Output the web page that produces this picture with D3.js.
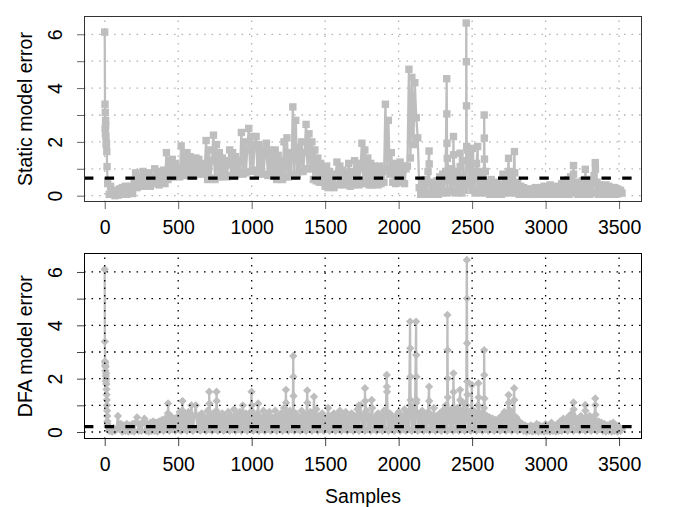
<!DOCTYPE html>
<html><head><meta charset="utf-8">
<script src="https://cdn.jsdelivr.net/npm/d3@7"></script>
<style>
html,body{margin:0;padding:0;background:#fff;}
svg{display:block;font-family:"Liberation Sans",Arial,Helvetica,sans-serif;}
</style>
</head><body>
<svg id="chart" width="676" height="507"></svg>
<script>
// ---------- data ----------
const xTicks = [0, 500, 1000, 1500, 2000, 2500, 3000, 3500];
const yTicks = [0, 1, 2, 3, 4, 5, 6];
const yTickLabels = [0, 2, 4, 6];
const sampleStep = 10;           // main series read every 10 samples
const xLabel = "Samples";
const staticLabel = "Static model error";
const dfaLabel = "DFA model error";
const staticThreshold = 0.65;
const dfaThreshold = 0.2;

// static model error, samples 0,10,20,...,3520
const staticErrors = [
  6.08,1.9,0.45,0.05,0.35,0.1,0.2,0.0,0.15,0.02,
  0.25,0.05,0.3,0.1,0.35,0.05,0.3,0.1,0.35,0.08,
  0.45,0.85,0.3,0.7,0.35,0.6,0.9,0.35,0.75,0.4,
  0.85,0.35,0.7,0.45,1.0,0.45,0.9,0.4,0.8,0.5,
  0.95,0.45,1.6,0.6,1.3,0.7,1.35,0.7,1.2,0.75,
  1.0,0.7,1.85,0.8,1.6,0.75,1.6,0.75,1.45,0.8,
  1.3,0.75,1.4,0.8,1.35,0.85,1.2,0.8,1.0,2.05,
  0.6,1.7,0.65,1.3,2.25,0.6,1.9,0.7,1.6,0.7,
  1.4,0.75,1.3,0.7,1.15,1.7,0.75,1.6,0.8,1.45,
  0.8,1.3,0.85,2.35,0.8,2.0,0.85,1.7,2.5,0.9,
  2.2,0.95,1.9,2.2,0.8,1.9,0.85,1.7,0.8,1.5,
  1.95,0.75,1.7,0.8,1.5,0.75,1.7,0.6,1.5,0.65,
  1.3,0.6,2.0,0.7,2.15,0.7,1.6,0.75,3.3,0.8,
  2.8,0.8,1.8,0.9,2.0,0.9,1.6,2.65,1.0,2.3,
  1.0,2.0,0.6,1.7,0.55,1.4,0.5,1.2,0.5,1.0,
  0.35,1.1,0.3,0.9,0.35,0.8,0.3,0.7,1.25,0.4,
  1.1,0.45,0.95,0.4,0.85,0.45,1.2,0.35,0.9,0.4,
  1.3,0.45,1.2,0.4,1.0,1.95,0.45,1.7,0.5,1.4,
  0.4,1.2,0.4,1.1,0.45,1.0,0.4,1.1,0.45,0.9,
  0.5,3.4,1.0,2.8,0.8,1.6,0.5,1.2,0.45,1.1,
  0.5,1.25,0.5,1.1,0.45,1.0,1.1,4.7,1.4,4.4,
  1.9,4.2,2.9,2.15,0.3,0.05,0.45,0.1,0.6,0.05,
  0.9,0.1,0.5,0.05,0.4,0.1,0.55,0.05,0.7,0.1,
  0.8,0.15,0.9,0.1,0.95,0.2,1.0,0.15,0.8,0.1,
  0.9,0.2,0.7,0.1,1.3,0.2,0.6,1.7,0.4,1.5,
  0.2,0.9,0.1,1.2,0.2,0.8,0.1,0.9,0.2,0.9,
  0.1,0.5,0.05,0.6,0.1,0.45,0.05,0.5,0.1,0.4,
  0.05,0.8,0.1,0.6,0.15,0.9,0.1,0.7,0.2,0.85,
  0.1,0.5,0.05,0.35,0.1,0.3,0.05,0.25,0.05,0.2,
  0.05,0.25,0.05,0.3,0.08,0.25,0.05,0.3,0.1,0.35,
  0.05,0.3,0.1,0.4,0.05,0.3,0.1,0.35,0.05,0.3,
  0.1,0.45,0.05,0.5,0.1,0.6,0.05,0.7,0.15,0.8,
  0.1,0.5,0.05,0.45,0.1,0.55,0.05,0.6,0.1,0.45,
  0.05,0.6,0.1,0.75,0.1,0.5,0.05,0.4,0.1,0.35,
  0.05,0.4,0.1,0.35,0.05,0.3,0.1,0.3,0.05,0.25,
  0.08,0.2,0.1
];
// extra static points (spikes between the regular samples)
const staticSpikeSamples = [2,3,4,5,6,7,8,12,14,16,2207,2208,2327,2328,2329,2331,2373,2374,2418,2419,2460,2461,2462,2463,2502,2538,2582,2583,2584,2748,2788,3190,3270,3338,3339];
const staticSpikeErrors  = [3.4,2.5,3.1,2.3,2.8,2.6,2.2,1.95,1.64,1.08,1.66,1.18,4.35,3.04,1.95,1.39,2.2,1.52,1.58,1.08,6.42,4.98,3.34,1.83,1.76,1.83,3.0,2.14,1.36,1.39,1.64,1.12,0.98,1.23,0.98];

// DFA model error, samples 0,10,20,...,3520
const dfaErrors = [
  6.1,2.0,0.2,0.05,0.1,0.02,0.15,0.05,0.1,0.6,
  0.1,0.3,0.02,0.25,0.05,0.3,0.02,0.25,0.05,0.3,
  0.02,0.35,0.55,0.05,0.3,0.05,0.35,0.5,0.05,0.3,
  0.02,0.35,0.05,0.4,0.05,0.35,0.02,0.4,0.1,0.45,
  0.05,0.5,0.1,0.7,0.05,0.6,0.1,0.5,0.05,0.55,
  0.1,0.75,0.05,0.8,0.1,0.6,0.05,0.75,0.1,1.0,
  0.05,0.6,1.0,0.1,0.6,0.05,0.7,0.1,0.55,0.05,
  0.8,0.1,0.65,0.05,0.7,0.1,0.8,0.05,0.6,0.1,
  0.7,0.05,0.55,0.1,0.75,0.05,0.6,0.1,0.85,0.05,
  0.65,0.1,0.75,0.05,1.0,0.1,0.7,0.05,0.65,0.1,
  0.8,0.05,0.6,0.1,0.7,0.05,0.55,0.1,0.8,0.05,
  0.6,0.1,0.75,0.05,0.55,0.1,0.8,0.05,0.6,0.1,
  0.7,0.05,0.9,0.1,0.65,0.05,0.8,0.1,0.6,0.05,
  0.7,0.1,0.55,0.05,0.8,0.1,0.65,0.05,0.6,0.1,
  0.75,0.05,0.6,0.1,0.85,0.05,0.6,0.1,0.7,0.05,
  0.55,0.1,0.9,0.05,0.6,0.1,0.7,0.05,0.65,0.1,
  0.8,0.05,0.6,0.1,0.75,0.05,0.55,0.1,0.7,0.05,
  0.6,0.1,0.85,0.05,1.0,0.1,0.65,0.05,0.8,0.1,
  0.6,0.05,0.9,0.1,0.55,0.05,0.7,0.1,0.6,0.05,
  0.8,0.1,0.65,0.05,0.7,0.1,0.55,0.05,0.6,0.1,
  0.75,0.05,0.6,0.1,0.85,0.05,0.7,0.1,1.0,0.05,
  0.9,0.1,1.1,0.05,0.7,0.1,0.8,0.05,0.6,0.1,
  0.75,0.05,0.65,0.1,0.9,0.05,0.6,0.1,0.7,0.05,
  0.8,0.1,1.0,0.05,0.7,0.1,0.85,0.05,0.75,0.1,
  0.9,0.05,0.8,0.1,1.1,0.05,1.0,0.1,0.7,0.05,
  0.85,0.1,0.75,0.05,1.0,0.1,0.7,0.05,0.9,0.1,
  0.6,0.05,0.55,0.1,0.5,0.05,0.45,0.1,0.5,0.05,
  0.6,0.1,0.75,0.05,0.65,0.1,0.8,0.05,0.6,0.1,
  0.55,0.05,0.4,0.1,0.3,0.05,0.25,0.02,0.2,0.05,
  0.25,0.02,0.2,0.05,0.3,0.02,0.25,0.05,0.2,0.02,
  0.3,0.05,0.25,0.02,0.35,0.05,0.2,0.02,0.3,0.05,
  0.4,0.05,0.5,0.1,0.45,0.05,0.6,0.1,0.7,0.05,
  0.55,0.1,0.45,0.05,0.6,0.1,0.5,0.05,0.55,0.1,
  0.6,0.05,0.5,0.1,0.65,0.05,0.4,0.1,0.35,0.05,
  0.3,0.02,0.25,0.05,0.3,0.02,0.35,0.05,0.25,0.02,
  0.2,0.05,0.1
];
const dfaSpikeSamples = [1,2,3,4,5,6,7,8,9,11,12,13,14,15,16,17,18,19,431,529,711,712,761,762,999,1001,1044,1233,1234,1283,1284,1285,1378,1379,1424,1730,1771,1772,1817,1919,1920,1921,2078,2079,2080,2081,2119,2120,2121,2122,2207,2208,2332,2333,2334,2335,2373,2374,2418,2419,2464,2465,2466,2467,2468,2498,2543,2544,2582,2583,2584,2748,2749,2786,2787,3190,3191,3270,3271,3338,3339];
const dfaSpikeErrors  = [3.39,2.65,2.5,2.6,2.3,2.45,2.1,1.9,2.2,1.8,1.6,1.4,1.2,1.0,0.8,0.6,0.4,0.3,1.07,1.16,1.51,1.07,1.51,1.16,1.51,1.0,1.07,1.58,1.1,2.85,2.07,1.35,1.56,1.1,1.32,1.0,1.64,1.16,1.2,2.14,1.7,1.51,4.14,3.14,2.07,1.2,4.14,2.89,2.07,1.2,1.7,1.16,4.39,3.07,2.01,1.3,2.2,1.5,1.58,1.2,6.45,5.01,3.33,1.89,1.4,1.76,1.83,1.3,3.07,2.14,1.26,1.39,1.1,1.64,1.2,1.11,0.85,1.01,0.8,1.26,1.01];

// ---------- helpers ----------
function buildSeries(main, spikeS, spikeV) {
  const pts = main.map((v, i) => ({ s: i * sampleStep, v: v }));
  const n = Math.min(spikeS.length, spikeV.length);
  for (let i = 0; i < n; i++) pts.push({ s: spikeS[i], v: spikeV[i] });
  return pts.sort((a, b) => a.s - b.s);
}

const svg = d3.select("#chart");
const FONT = 19.5;
const left = 84, right = 642;
const x = d3.scaleLinear().domain([-141, 3656]).range([left, right]);

const panels = [
  { data: buildSeries(staticErrors, staticSpikeSamples, staticSpikeErrors),
    top: 16, bottom: 202, domain: [-0.235, 6.68], label: staticLabel,
    thr: staticThreshold, marker: "square", gridColor: "#b4b4b4", gridOnTop: false,
    boxColor: "#333", tickColor: "#666", id: "p1" },
  { data: buildSeries(dfaErrors, dfaSpikeSamples, dfaSpikeErrors),
    top: 253.3, bottom: 439, domain: [-0.262, 6.70], label: dfaLabel,
    thr: dfaThreshold, marker: "diamond", gridColor: "#000", gridOnTop: true,
    boxColor: "#000", tickColor: "#444", id: "p2" }
];

const defs = svg.append("defs");

panels.forEach(p => {
  const y = d3.scaleLinear().domain(p.domain).range([p.bottom, p.top]);
  const g = svg.append("g");
  defs.append("clipPath").attr("id", "clip-" + p.id)
    .append("rect").attr("x", left).attr("y", p.top)
    .attr("width", right - left).attr("height", p.bottom - p.top);

  const drawGrid = () => {
    const gg = g.append("g").attr("fill", "none").attr("stroke", p.gridColor)
      .attr("stroke-width", 1.3).attr("stroke-dasharray", "1.6 5.9");
    gg.selectAll("line.h").data(yTicks).join("line").attr("class", "h")
      .attr("x1", left).attr("x2", right)
      .attr("y1", d => y(d)).attr("y2", d => y(d));
    gg.selectAll("line.v").data(xTicks).join("line").attr("class", "v")
      .attr("x1", d => x(d)).attr("x2", d => x(d))
      .attr("y1", p.bottom).attr("y2", p.top);
  };

  if (!p.gridOnTop) drawGrid();

  const plot = g.append("g").attr("clip-path", `url(#clip-${p.id})`);
  plot.append("path").datum(p.data)
    .attr("fill", "none").attr("stroke", "#BEBEBE").attr("stroke-width", 2.3)
    .attr("stroke-linejoin", "round")
    .attr("d", d3.line().x(d => x(d.s)).y(d => y(d.v)));

  const markerPath = p.marker === "square"
    ? "M-3.7,-3.7H3.7V3.7H-3.7Z"
    : "M0,-4.2L4.2,0L0,4.2L-4.2,0Z";
  plot.append("g").attr("fill", "#BEBEBE")
    .selectAll("path").data(p.data).join("path")
    .attr("transform", d => `translate(${x(d.s)},${y(d.v)})`)
    .attr("d", markerPath);

  if (p.gridOnTop) drawGrid();

  // threshold dashed line
  g.append("line")
    .attr("x1", left).attr("x2", right)
    .attr("y1", y(p.thr)).attr("y2", y(p.thr))
    .attr("stroke", "#000").attr("stroke-width", 3.3)
    .attr("stroke-dasharray", "9.4 11.3");

  // box
  g.append("rect").attr("x", left + 0.5).attr("y", Math.round(p.top) + 0.5)
    .attr("width", right - left - 1).attr("height", Math.round(p.bottom) - Math.round(p.top) - 1)
    .attr("fill", "none").attr("stroke", p.boxColor).attr("stroke-width", 1);

  // x axis
  const xa = g.append("g").attr("transform", `translate(0,${Math.round(p.bottom)})`)
    .call(d3.axisBottom(x).tickValues(xTicks).tickSize(7).tickPadding(11).tickFormat(d3.format("d")));
  xa.select(".domain").remove();
  xa.selectAll("line").attr("stroke", p.tickColor);
  xa.selectAll("text").attr("font-size", FONT).attr("fill", "#000")
    .attr("font-family", '"Liberation Sans",Arial,sans-serif');

  // y axis
  const ya = g.append("g").attr("transform", `translate(${left},0)`)
    .call(d3.axisLeft(y).tickValues(yTicks).tickSize(7)
      .tickFormat(d => yTickLabels.includes(d) ? String(d) : ""));
  ya.select(".domain").remove();
  ya.selectAll("line").attr("stroke", p.tickColor);
  ya.selectAll("text")
    .attr("x", null).attr("dy", null).attr("y", null)
    .attr("text-anchor", "middle")
    .attr("transform", "translate(-22.3,0) rotate(-90)")
    .attr("font-size", FONT).attr("fill", "#000")
    .attr("font-family", '"Liberation Sans",Arial,sans-serif');

  // y label
  g.append("text")
    .attr("transform", `translate(31.7,${(p.top + p.bottom) / 2}) rotate(-90)`)
    .attr("text-anchor", "middle").attr("font-size", FONT).attr("fill", "#000")
    .text(p.label);
});

// x label
svg.append("text")
  .attr("x", (left + right) / 2).attr("y", 502.7)
  .attr("text-anchor", "middle").attr("font-size", FONT).attr("fill", "#000")
  .text(xLabel);
</script>
</body></html>
